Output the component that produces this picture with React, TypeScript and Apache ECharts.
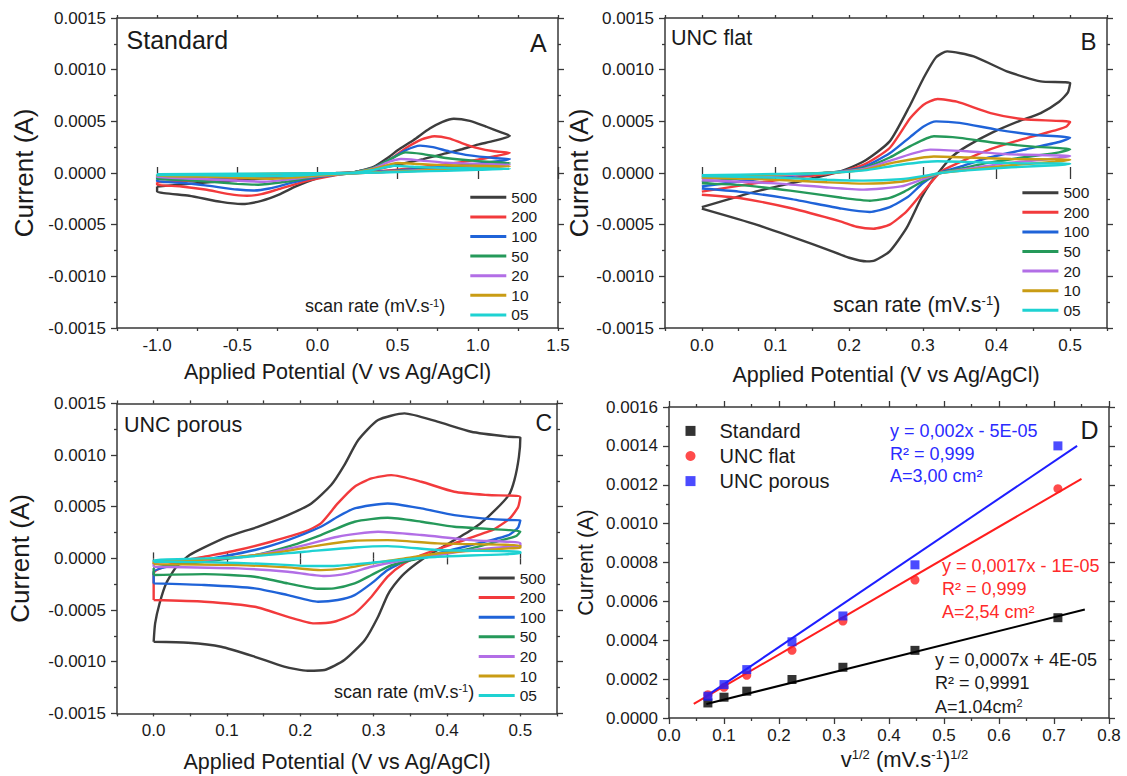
import React, { useEffect, useRef } from 'react';
import * as echarts from 'echarts';

// ---------- shared ----------
const RATES = ['500', '200', '100', '50', '20', '10', '05'];
const RATE_COLORS = ['#3d3d3d', '#f23a3c', '#1f63d8', '#25995a', '#b26ee6', '#c99c14', '#1ed2d2'];

// ---------- Panel A : Standard  [E (V), I (1e-4 A)] ----------
const A_500 = [[-1.0,-1.3],[-0.8,-1.05],[-0.6,-0.8],[-0.4,-0.6],[-0.2,-0.4],[0.0,-0.2],[0.2,0.0],[0.35,0.6],[0.45,1.6],[0.5,2.2],[0.6,3.2],[0.7,4.3],[0.78,4.95],[0.85,5.25],[0.95,5.05],[1.05,4.5],[1.15,3.9],[1.2,3.6],
  [1.1,3.1],[1.0,2.75],[0.9,2.3],[0.8,1.9],[0.66,1.35],[0.5,0.8],[0.35,0.35],[0.2,0.05],[0.12,0.0],[0.0,-0.5],[-0.135,-1.3],[-0.24,-2.1],[-0.35,-2.7],[-0.47,-3.0],[-0.6,-2.8],[-0.8,-2.2],[-1.0,-1.8],[-1.0,-1.3]];
const A_200 = [[-1.0,-0.9],[-0.6,-0.6],[-0.2,-0.3],[0.0,-0.15],[0.2,0.0],[0.35,0.5],[0.45,1.3],[0.55,2.4],[0.65,3.25],[0.73,3.55],[0.82,3.35],[0.9,2.9],[1.0,2.4],[1.1,2.1],[1.2,1.95],
  [1.1,1.6],[1.0,1.3],[0.8,0.85],[0.6,0.5],[0.4,0.2],[0.2,0.0],[0.05,-0.4],[-0.1,-0.9],[-0.25,-1.6],[-0.35,-2.05],[-0.44,-2.2],[-0.55,-2.05],[-0.7,-1.6],[-0.85,-1.3],[-1.0,-1.13],[-1.0,-0.9]];
const A_100 = [[-1.0,-0.6],[-0.6,-0.45],[-0.2,-0.25],[0.0,-0.1],[0.2,0.0],[0.35,0.5],[0.45,1.3],[0.55,2.2],[0.64,2.65],[0.72,2.5],[0.82,2.1],[0.95,1.7],[1.1,1.45],[1.2,1.35],
  [1.1,1.1],[0.9,0.75],[0.7,0.5],[0.5,0.25],[0.3,0.05],[0.15,-0.1],[0.0,-0.4],[-0.15,-0.9],[-0.3,-1.5],[-0.4,-1.7],[-0.5,-1.6],[-0.7,-1.2],[-0.85,-0.95],[-1.0,-0.8],[-1.0,-0.6]];
const A_50 = [[-1.0,-0.4],[-0.5,-0.3],[0.0,-0.1],[0.2,0.0],[0.35,0.5],[0.45,1.3],[0.55,2.0],[0.65,1.85],[0.8,1.45],[1.0,1.15],[1.2,0.97],
  [1.0,0.75],[0.8,0.5],[0.6,0.3],[0.4,0.1],[0.2,-0.05],[0.0,-0.35],[-0.2,-0.85],[-0.37,-1.13],[-0.5,-1.05],[-0.75,-0.75],[-1.0,-0.55],[-1.0,-0.4]];
const A_20 = [[-1.0,-0.3],[-0.5,-0.2],[0.0,-0.05],[0.2,0.0],[0.35,0.45],[0.45,1.1],[0.52,1.35],[0.62,1.25],[0.8,1.0],[1.0,0.88],[1.2,0.8],
  [1.0,0.6],[0.8,0.4],[0.6,0.25],[0.4,0.1],[0.2,-0.05],[0.0,-0.3],[-0.2,-0.65],[-0.33,-0.84],[-0.5,-0.75],[-0.75,-0.55],[-1.0,-0.4],[-1.0,-0.3]];
const A_10 = [[-1.0,-0.2],[-0.5,-0.12],[0.0,-0.03],[0.2,0.0],[0.35,0.4],[0.5,0.97],[0.6,0.9],[0.8,0.75],[1.0,0.7],[1.2,0.65],
  [1.0,0.5],[0.8,0.35],[0.6,0.2],[0.4,0.08],[0.2,-0.05],[0.0,-0.25],[-0.15,-0.45],[-0.28,-0.55],[-0.5,-0.45],[-0.75,-0.35],[-1.0,-0.3],[-1.0,-0.2]];
const A_05 = [[-1.0,-0.12],[-0.5,-0.07],[0.0,-0.02],[0.2,0.0],[0.35,0.3],[0.48,0.7],[0.6,0.6],[0.8,0.5],[1.0,0.45],[1.2,0.4],
  [1.0,0.3],[0.8,0.22],[0.6,0.15],[0.4,0.05],[0.2,-0.03],[0.0,-0.15],[-0.25,-0.3],[-0.5,-0.27],[-0.75,-0.2],[-1.0,-0.2],[-1.0,-0.12]];

// ---------- Panel B : UNC flat ----------
const B_500 = [[0,-3.3],[0.074,-1.77],[0.142,-0.65],[0.188,0.16],[0.22,1.13],[0.255,3.06],[0.283,6.61],[0.301,9.19],[0.318,11.2],[0.333,11.77],[0.369,11.29],[0.414,9.84],[0.46,8.87],[0.5,8.7],
  [0.497,7.8],[0.485,6.9],[0.46,5.8],[0.43,5.0],[0.394,3.9],[0.36,2.6],[0.34,1.6],[0.324,0.3],[0.31,-1.0],[0.298,-2.4],[0.278,-5.32],[0.255,-7.58],[0.235,-8.45],[0.224,-8.55],[0.2,-8.2],[0.165,-7.26],[0.074,-5.0],[0,-3.45]];
const B_200 = [[0,-1.8],[0.074,-0.97],[0.142,-0.32],[0.188,0.1],[0.22,0.81],[0.255,2.42],[0.283,5.32],[0.301,6.61],[0.32,7.16],[0.346,6.9],[0.392,5.8],[0.437,5.2],[0.5,4.94],
  [0.495,4.5],[0.483,4.2],[0.437,3.3],[0.392,2.3],[0.346,0.9],[0.324,0.1],[0.301,-1.77],[0.278,-3.71],[0.255,-5.0],[0.233,-5.39],[0.21,-5.2],[0.188,-4.68],[0.12,-3.39],[0.051,-2.42],[0,-2.1]];
const B_100 = [[0,-1.3],[0.074,-0.6],[0.142,-0.15],[0.188,0.15],[0.22,0.6],[0.255,1.9],[0.283,3.5],[0.301,4.5],[0.318,5.0],[0.35,4.85],[0.4,4.2],[0.45,3.7],[0.5,3.4],
  [0.485,3.0],[0.44,2.3],[0.39,1.5],[0.35,0.6],[0.324,0.05],[0.3,-1.0],[0.28,-2.3],[0.255,-3.3],[0.228,-3.77],[0.19,-3.45],[0.12,-2.5],[0.05,-1.8],[0,-1.5]];
const B_50 = [[0,-0.87],[0.074,-0.4],[0.15,-0.05],[0.19,0.15],[0.22,0.5],[0.255,1.5],[0.283,2.6],[0.315,3.55],[0.35,3.4],[0.4,2.9],[0.45,2.55],[0.5,2.3],
  [0.485,2.0],[0.44,1.55],[0.39,1.0],[0.35,0.4],[0.324,0.0],[0.3,-0.8],[0.275,-1.8],[0.255,-2.4],[0.228,-2.68],[0.19,-2.4],[0.12,-1.7],[0.05,-1.15],[0,-1.0]];
const B_20 = [[0,-0.6],[0.1,-0.25],[0.17,0.0],[0.22,0.4],[0.26,1.3],[0.31,2.26],[0.36,2.1],[0.42,1.8],[0.5,1.65],
  [0.48,1.4],[0.42,1.0],[0.36,0.4],[0.324,0.0],[0.3,-0.6],[0.27,-1.3],[0.22,-1.61],[0.17,-1.4],[0.1,-1.0],[0,-0.7]];
const B_10 = [[0,-0.4],[0.1,-0.15],[0.17,0.0],[0.22,0.3],[0.26,1.0],[0.315,1.6],[0.36,1.5],[0.42,1.35],[0.5,1.29],
  [0.48,1.1],[0.42,0.75],[0.36,0.3],[0.324,0.0],[0.3,-0.4],[0.27,-0.85],[0.22,-1.03],[0.17,-0.9],[0.1,-0.65],[0,-0.45]];
const B_05 = [[0,-0.22],[0.1,-0.1],[0.17,0.0],[0.22,0.25],[0.27,0.8],[0.32,1.13],[0.37,1.05],[0.43,0.95],[0.5,0.9],
  [0.48,0.75],[0.42,0.55],[0.36,0.25],[0.324,0.0],[0.3,-0.3],[0.27,-0.6],[0.22,-0.74],[0.17,-0.65],[0.1,-0.45],[0,-0.3]];

// ---------- Panel C : UNC porous ----------
const C_500 = [[0,-8.07],[0.002,-6.29],[0.008,-4.36],[0.017,-2.42],[0.031,-0.81],[0.049,0.32],[0.069,1.06],[0.101,2.1],[0.142,3.06],[0.183,4.19],[0.215,5.32],[0.242,7.1],[0.26,9.03],[0.279,11.45],[0.306,13.39],[0.342,14.03],[0.387,13.23],[0.433,12.26],[0.484,11.77],[0.5,11.7],
  [0.498,9.8],[0.492,7.6],[0.484,6.1],[0.456,4.03],[0.433,2.74],[0.387,0.81],[0.365,-0.16],[0.342,-1.45],[0.328,-2.58],[0.319,-3.55],[0.306,-5.65],[0.288,-7.9],[0.26,-9.84],[0.233,-10.8],[0.21,-10.87],[0.178,-10.48],[0.138,-9.52],[0.092,-8.55],[0.047,-8.16],[0,-8.07]];
const C_200 = [[0,-4.03],[0,-1.45],[0.03,-0.4],[0.069,0.16],[0.115,0.81],[0.16,1.61],[0.206,2.58],[0.228,3.39],[0.251,5.32],[0.274,6.94],[0.297,7.74],[0.324,8.06],[0.365,7.42],[0.41,6.45],[0.456,6.13],[0.5,5.95],
  [0.497,4.98],[0.486,3.9],[0.466,2.9],[0.456,2.58],[0.41,1.45],[0.365,0.32],[0.342,-0.48],[0.319,-1.77],[0.297,-3.71],[0.274,-5.32],[0.246,-6.13],[0.219,-6.29],[0.183,-5.65],[0.138,-4.68],[0.069,-4.19],[0,-4.03]];
const C_100 = [[0,-2.42],[0,-1.3],[0.03,-0.6],[0.069,-0.16],[0.138,0.81],[0.183,1.77],[0.228,3.06],[0.251,4.03],[0.274,4.84],[0.319,5.32],[0.365,4.84],[0.41,4.19],[0.484,3.71],[0.5,3.7],
  [0.497,3.0],[0.484,2.26],[0.433,1.29],[0.387,0.48],[0.342,-0.32],[0.319,-1.13],[0.297,-2.42],[0.274,-3.55],[0.251,-4.03],[0.224,-4.19],[0.183,-3.55],[0.138,-2.9],[0.069,-2.58],[0,-2.42]];
const C_50 = [[0,-1.61],[0,-0.97],[0.069,-0.32],[0.138,0.32],[0.183,1.13],[0.228,2.26],[0.274,3.55],[0.319,3.93],[0.365,3.55],[0.41,3.06],[0.484,2.74],[0.5,2.6],
  [0.495,2.2],[0.484,1.94],[0.433,0.97],[0.387,0.32],[0.342,-0.32],[0.319,-0.81],[0.297,-1.61],[0.274,-2.42],[0.246,-2.9],[0.224,-2.94],[0.183,-2.42],[0.138,-1.77],[0.069,-1.52],[0,-1.61]];
const C_20 = [[0,-0.81],[0,-0.48],[0.069,-0.16],[0.138,0.32],[0.206,1.29],[0.251,2.1],[0.306,2.58],[0.365,2.26],[0.433,1.77],[0.5,1.5],
  [0.5,1.2],[0.484,1.13],[0.433,0.81],[0.387,0.32],[0.342,-0.16],[0.297,-0.81],[0.265,-1.45],[0.233,-1.71],[0.183,-1.29],[0.115,-0.97],[0,-0.81]];
const C_10 = [[0,-0.55],[0,-0.32],[0.069,-0.1],[0.16,0.48],[0.228,1.29],[0.274,1.71],[0.319,1.77],[0.387,1.45],[0.5,1.25],
  [0.5,1.0],[0.484,0.97],[0.387,0.48],[0.342,0.0],[0.297,-0.48],[0.26,-0.97],[0.228,-1.13],[0.183,-0.87],[0.115,-0.65],[0,-0.55]];
const C_05 = [[0,-0.32],[0,-0.16],[0.115,0.1],[0.206,0.65],[0.274,1.06],[0.319,1.19],[0.387,0.81],[0.5,0.65],
  [0.5,0.5],[0.387,0.16],[0.342,-0.1],[0.297,-0.42],[0.251,-0.71],[0.215,-0.74],[0.16,-0.55],[0.069,-0.36],[0,-0.32]];

// ---------- Panel D : peak current vs sqrt(scan rate) ----------
const D_X = [0.0707, 0.1, 0.1414, 0.2236, 0.3162, 0.4472, 0.7071];
const D_STANDARD = [0.0000774, 0.000107, 0.000138, 0.000198, 0.000261, 0.000348, 0.000516];
const D_FLAT = [0.00012, 0.000158, 0.00022, 0.000348, 0.000499, 0.00071, 0.00118];
const D_POROUS = [0.000112, 0.000172, 0.000249, 0.000392, 0.000525, 0.000788, 0.0014];
const FIT_STANDARD = [[0.068, 0.000072], [0.756, 0.000558]];
const FIT_FLAT = [[0.045, 0.0000723], [0.75, 0.00123]];
const FIT_POROUS = [[0.065, 0.000107], [0.742, 0.0014]];

const A_TICKS = [-1.0, -0.5, 0.0, 0.5, 1.0, 1.5];
const BC_TICKS = [0.0, 0.1, 0.2, 0.3, 0.4, 0.5];

const FONT = '"Liberation Sans", Arial, Helvetica, sans-serif';
const AX = '#383838';
const TXT = '#1a1a1a';

const fmt4 = (v: number) => (Math.abs(v) < 1e-12 ? 0 : v).toFixed(4);
const fmt1 = (v: number) => (Math.abs(v) < 1e-9 ? 0 : v).toFixed(1);

function buildOption() {
  const grids: any[] = [
    { left: 117, top: 18, width: 441, height: 310 },
    { left: 665, top: 18, width: 442, height: 310 },
    { left: 117, top: 403.4, width: 440, height: 310 },
    { left: 669, top: 407, width: 440, height: 311 },
  ];
  const xAxes: any[] = [];
  const yAxes: any[] = [];
  const series: any[] = [];
  const axisLine = { show: true, onZero: false, lineStyle: { color: AX, width: 1.5 } };
  const tickStyle = { color: AX, width: 1.3 };
  const labelBase = { fontSize: 17, color: TXT, fontFamily: FONT };

  function cvAxes(gi: number, xmin: number, xmax: number, step: number, majors: number[], xGap: number, yGap: number) {
    const isMajor = (v: number) => majors.some((m) => Math.abs(m - v) < 1e-9);
    const xi = xAxes.length;
    xAxes.push({
      type: 'value', gridIndex: gi, position: 'bottom', min: xmin, max: xmax, interval: step,
      axisLine, axisTick: { show: true, length: 3, lineStyle: tickStyle },
      axisLabel: { show: true, customValues: majors, formatter: (v: number) => (isMajor(v) ? fmt1(v) : ''), margin: 9, ...labelBase },
      splitLine: { show: false },
      name: 'Applied Potential (V vs Ag/AgCl)', nameLocation: 'middle', nameGap: xGap,
      nameTextStyle: { fontSize: 21.5, color: TXT, fontFamily: FONT },
    });
    xAxes.push({
      type: 'value', gridIndex: gi, position: 'bottom', min: xmin, max: xmax, interval: step,
      axisLine: { show: false }, axisTick: { show: true, customValues: majors, length: 6, lineStyle: tickStyle },
      axisLabel: { show: false }, splitLine: { show: false },
    });
    xAxes.push({
      type: 'value', gridIndex: gi, position: 'top', min: xmin, max: xmax, interval: step,
      axisLine, axisTick: { show: true, length: 3, lineStyle: tickStyle },
      axisLabel: { show: false }, splitLine: { show: false },
    });
    xAxes.push({
      type: 'value', gridIndex: gi, position: 'top', min: xmin, max: xmax, interval: step,
      axisLine: { show: false }, axisTick: { show: true, customValues: majors, length: 6, lineStyle: tickStyle },
      axisLabel: { show: false }, splitLine: { show: false },
    });
    const yi = yAxes.length;
    const yCommon = {
      type: 'value', gridIndex: gi, min: -0.0015, max: 0.0015, interval: 0.0005,
      axisLine, axisTick: { show: true, length: 6, lineStyle: tickStyle },
      minorTick: { show: true, splitNumber: 2, length: 3, lineStyle: tickStyle },
      splitLine: { show: false }, minorSplitLine: { show: false },
    };
    yAxes.push({
      ...yCommon, position: 'left',
      axisLabel: { show: true, formatter: fmt4, margin: 11, ...labelBase },
      name: 'Current (A)', nameLocation: 'middle', nameGap: yGap,
      nameTextStyle: { fontSize: 26, color: TXT, fontFamily: FONT },
    });
    yAxes.push({ ...yCommon, position: 'right', axisLabel: { show: false } });
    return { xi, yi };
  }

  const panels = [
    { data: [A_500, A_200, A_100, A_50, A_20, A_10, A_05], ax: cvAxes(0, -1.25, 1.5, 0.25, A_TICKS, 33, 80) },
    { data: [B_500, B_200, B_100, B_50, B_20, B_10, B_05], ax: cvAxes(1, -0.05, 0.55, 0.05, BC_TICKS, 36, 72) },
    { data: [C_500, C_200, C_100, C_50, C_20, C_10, C_05], ax: cvAxes(2, -0.05, 0.55, 0.05, BC_TICKS, 38, 84) },
  ];
  panels.forEach((p) => {
    p.data.forEach((curve, i) => {
      series.push({
        type: 'line', name: RATES[i], xAxisIndex: p.ax.xi, yAxisIndex: p.ax.yi,
        data: curve.map(([x, y]) => [x, y * 1e-4]),
        showSymbol: false, symbol: 'none', smooth: 0.2, color: RATE_COLORS[i],
        lineStyle: { width: 2.4, color: RATE_COLORS[i] }, z: 2 + i, silent: true, clip: true,
      });
    });
  });

  // Panel D axes
  const dxi = xAxes.length;
  const dxCommon = {
    type: 'value', gridIndex: 3, min: 0, max: 0.8, interval: 0.1,
    axisLine, axisTick: { show: true, length: 6, lineStyle: tickStyle },
    minorTick: { show: true, splitNumber: 2, length: 3, lineStyle: tickStyle },
    splitLine: { show: false }, minorSplitLine: { show: false },
  };
  xAxes.push({
    ...dxCommon, position: 'bottom',
    axisLabel: { show: true, formatter: fmt1, margin: 9, ...labelBase },
    name: 'v{sup|1/2} (mV.s{sup|-1}){sup|1/2}', nameLocation: 'middle', nameGap: 30,
    nameTextStyle: {
      fontSize: 22, color: TXT, fontFamily: FONT, padding: [0, 0, 0, 31],
      rich: { sup: { fontSize: 13, verticalAlign: 'top', color: TXT, fontFamily: FONT } },
    },
  });
  xAxes.push({ ...dxCommon, position: 'top', axisLabel: { show: false } });
  const dyi = yAxes.length;
  const dyCommon = {
    type: 'value', gridIndex: 3, min: 0, max: 0.0016, interval: 0.0002,
    axisLine, axisTick: { show: true, length: 6, lineStyle: tickStyle },
    minorTick: { show: true, splitNumber: 2, length: 3, lineStyle: tickStyle },
    splitLine: { show: false }, minorSplitLine: { show: false },
  };
  yAxes.push({
    ...dyCommon, position: 'left',
    axisLabel: { show: true, formatter: fmt4, margin: 11, ...labelBase },
    name: 'Current (A)', nameLocation: 'middle', nameGap: 72,
    nameTextStyle: { fontSize: 21.5, color: TXT, fontFamily: FONT },
  });
  yAxes.push({ ...dyCommon, position: 'right', axisLabel: { show: false } });

  const fits = [
    { name: 'fit Standard', data: FIT_STANDARD, color: '#000000' },
    { name: 'fit UNC flat', data: FIT_FLAT, color: '#ff1e1e' },
    { name: 'fit UNC porous', data: FIT_POROUS, color: '#1e1eff' },
  ];
  fits.forEach((f) => {
    series.push({
      type: 'line', name: f.name, xAxisIndex: dxi, yAxisIndex: dyi, data: f.data,
      showSymbol: false, symbol: 'none', color: f.color, lineStyle: { width: 2, color: f.color }, z: 3, silent: true,
    });
  });
  const scat = [
    { name: 'Standard', ys: D_STANDARD, color: '#000000', symbol: 'rect' },
    { name: 'UNC flat', ys: D_FLAT, color: '#ff1e1e', symbol: 'circle' },
    { name: 'UNC porous', ys: D_POROUS, color: '#1e1eff', symbol: 'rect' },
  ];
  scat.forEach((s) => {
    series.push({
      type: 'scatter', name: s.name, xAxisIndex: dxi, yAxisIndex: dyi,
      data: D_X.map((x, i) => [x, s.ys[i]]), symbol: s.symbol, symbolSize: 9,
      color: s.color, itemStyle: { color: s.color }, z: 5, silent: true,
    });
  });

  const cvLegend = (left: number, top: number) => ({
    show: true, selectedMode: false, orient: 'vertical', left, top, padding: 0,
    itemWidth: 36, itemHeight: 3, itemGap: 3.6, icon: 'rect', data: RATES,
    textStyle: { fontSize: 15.5, lineHeight: 16, color: TXT, fontFamily: FONT },
  });
  const legends = [
    cvLegend(470.3, 189.3),
    cvLegend(1022.4, 184.7),
    cvLegend(478.7, 570),
    {
      show: true, selectedMode: false, orient: 'vertical', left: 685.5, top: 420.9, padding: 0,
      itemWidth: 10, itemHeight: 10, itemGap: 5.1, data: ['Standard', 'UNC flat', 'UNC porous'],
      textStyle: { fontSize: 20, lineHeight: 20, color: TXT, fontFamily: FONT, padding: [0, 0, 0, 19] },
    },
  ];

  const txt = (x: number, y: number, text: string, size: number, color = TXT, rich?: any) => ({
    type: 'text', x, y, silent: true, z: 10,
    style: {
      text, fontSize: size, fontFamily: FONT, fill: color,
      textVerticalAlign: 'middle', verticalAlign: 'middle',
      ...(rich ? { rich } : {}),
    },
  });
  const supRich = (size: number, color = TXT) => ({
    sup: { fontSize: size, verticalAlign: 'top', fill: color, fontFamily: FONT },
  });

  const graphic = [
    txt(126.6, 40, 'Standard', 25),
    txt(530, 43, 'A', 25),
    txt(305, 306, 'scan rate (mV.s{sup|-1})', 18, TXT, supRich(11)),
    txt(671, 38.3, 'UNC flat', 21.5),
    txt(1080.5, 41.7, 'B', 24),
    txt(833, 305, 'scan rate (mV.s{sup|-1})', 21.5, TXT, supRich(13)),
    txt(124, 425, 'UNC porous', 21.5),
    txt(535.6, 423.4, 'C', 23),
    txt(334, 691.6, 'scan rate (mV.s{sup|-1})', 18, TXT, supRich(11)),
    txt(1080.6, 430, 'D', 25),
    txt(890, 430.9, 'y = 0,002x - 5E-05', 18, '#2b2bff'),
    txt(890, 453.7, 'R² = 0,999', 18, '#2b2bff'),
    txt(890, 476.4, 'A=3,00 cm²', 18, '#2b2bff'),
    txt(942, 565.9, 'y = 0,0017x - 1E-05', 18, '#ff2a2a'),
    txt(942, 589.3, 'R² = 0,999', 18, '#ff2a2a'),
    txt(942, 611.8, 'A=2,54 cm²', 18, '#ff2a2a'),
    txt(935, 659.7, 'y = 0,0007x + 4E-05', 18, TXT),
    txt(935, 683.1, 'R² = 0,9991', 18, TXT),
    txt(935, 706.6, 'A=1.04cm{sup|2}', 18, TXT, supRich(11)),
  ];

  return {
    animation: false,
    backgroundColor: '#ffffff',
    textStyle: { fontFamily: FONT },
    grid: grids,
    xAxis: xAxes,
    yAxis: yAxes,
    legend: legends,
    series,
    graphic,
  };
}

export default function App() {
  const ref = useRef<HTMLDivElement>(null);
  useEffect(() => {
    if (!ref.current) return;
    const chart = echarts.init(ref.current, undefined, { renderer: 'svg' });
    chart.setOption(buildOption() as any);
    return () => chart.dispose();
  }, []);
  return (
    <div
      ref={ref}
      style={{ position: 'absolute', left: 0, top: 0, width: 1127, height: 776, background: '#fff' }}
    />
  );
}
